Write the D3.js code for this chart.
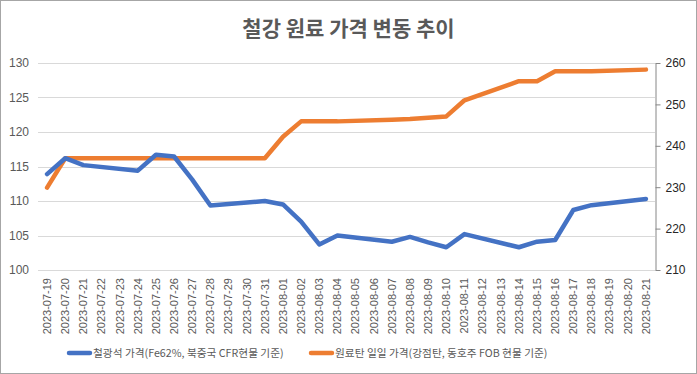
<!DOCTYPE html>
<html>
<head>
<meta charset="utf-8">
<script src="https://cdn.jsdelivr.net/npm/d3@7/dist/d3.min.js"></script>
<style>
  html, body { margin: 0; padding: 0; background: #fff; }
  svg { display: block; }
</style>
</head>
<body>
<div id="chart"></div>
<script>
// Dates on the category axis (weekends have no quote -> null, line skips them)
const dates = [
  '2023-07-19', '2023-07-20', '2023-07-21', '2023-07-22', '2023-07-23', '2023-07-24',
  '2023-07-25', '2023-07-26', '2023-07-27', '2023-07-28', '2023-07-29', '2023-07-30',
  '2023-07-31', '2023-08-01', '2023-08-02', '2023-08-03', '2023-08-04', '2023-08-05',
  '2023-08-06', '2023-08-07', '2023-08-08', '2023-08-09', '2023-08-10', '2023-08-11',
  '2023-08-12', '2023-08-13', '2023-08-14', '2023-08-15', '2023-08-16', '2023-08-17',
  '2023-08-18', '2023-08-19', '2023-08-20', '2023-08-21'
];

// Iron ore (left axis)
const ironOre = [
  113.9, 116.2, 115.2, null, null, 114.4,
  116.7, 116.45, 113.1, 109.35, null, null,
  110.0, 109.5, 107.0, 103.7, 105.0, null,
  null, 104.1, 104.8, 104.0, 103.3, 105.2,
  null, null, 103.3, 104.1, 104.35, 108.7,
  109.4, null, null, 110.3
];

// Coking coal (right axis)
const cokingCoal = [
  229.9, 237.0, 237.0, null, null, 237.0,
  237.0, 237.0, 237.0, 237.0, null, null,
  237.0, 242.2, 245.9, 245.9, 245.9, null,
  null, 246.3, 246.45, 246.8, 247.1, 251.0,
  null, null, 255.6, 255.6, 258.0, 258.0,
  258.0, null, null, 258.4
];

const leftTicks  = [100, 105, 110, 115, 120, 125, 130];
const rightTicks = [210, 220, 230, 240, 250, 260];

const title = '철강 원료 가격 변동 추이';
const seriesNames = [
  '철광석 가격(Fe62%, 북중국 CFR현물 기준)',
  '원료탄 일일 가격(강점탄, 동호주 FOB 현물 기준)'
];
const colors = ['#4472C4', '#ED7D31'];

const W = 697, H = 374;
const margin = { top: 63, right: 42, bottom: 104, left: 38 };
const iw = W - margin.left - margin.right;
const ih = H - margin.top - margin.bottom;

const svg = d3.select('#chart').append('svg')
  .attr('width', W).attr('height', H);

svg.append('rect')
  .attr('x', 0.5).attr('y', 0.5)
  .attr('width', W - 1).attr('height', H - 1)
  .attr('fill', '#fff').attr('stroke', '#a6a6a6');

svg.append('text')
  .attr('x', W / 2).attr('y', 36)
  .attr('text-anchor', 'middle')
  .style('font-family', '"Noto Sans CJK KR", sans-serif')
  .style('font-size', '21px')
  .style('font-weight', '700')
  .style('fill', '#595959')
  .text(title);

const g = svg.append('g').attr('transform', `translate(${margin.left},${margin.top})`);

const x = d3.scaleBand().domain(dates).range([0, iw]);
const yL = d3.scaleLinear().domain([100, 130]).range([ih, 0]);
const yR = d3.scaleLinear().domain([210, 260]).range([ih, 0]);

// gridlines
g.selectAll('line.grid')
  .data(leftTicks)
  .join('line')
  .attr('class', 'grid')
  .attr('x1', 0).attr('x2', iw)
  .attr('y1', d => Math.round(yL(d)) + 0.5)
  .attr('y2', d => Math.round(yL(d)) + 0.5)
  .attr('stroke', '#d9d9d9').attr('stroke-width', 1);

// left axis labels
const axL = g.append('g')
  .call(d3.axisLeft(yL).tickValues(leftTicks).tickSize(0).tickPadding(9));
axL.select('.domain').remove();
axL.selectAll('text')
  .style('font-family', '"Liberation Sans", Arial, sans-serif')
  .style('font-size', '12px')
  .style('fill', '#595959');

// right axis with outward ticks
const axR = g.append('g')
  .attr('transform', `translate(${iw + 0.5},0)`)
  .call(d3.axisRight(yR).tickValues(rightTicks).tickSize(5).tickPadding(5).tickSizeOuter(0));
axR.select('.domain').attr('stroke', '#868686');
axR.selectAll('.tick line').attr('stroke', '#868686');
axR.selectAll('text')
  .style('font-family', '"Liberation Sans", Arial, sans-serif')
  .style('font-size', '12px')
  .style('fill', '#262626');

// category labels (rotated)
const axX = g.append('g')
  .attr('transform', `translate(0,${ih})`)
  .call(d3.axisBottom(x).tickSize(0).tickPadding(0));
axX.select('.domain').remove();
axX.selectAll('text')
  .attr('transform', 'rotate(-90)')
  .attr('x', -8).attr('y', 0).attr('dy', '0.35em')
  .attr('text-anchor', 'end')
  .style('font-family', '"Liberation Sans", Arial, sans-serif')
  .style('font-size', '11px')
  .style('fill', '#595959');

const cx = d => x(d) + x.bandwidth() / 2;

function drawLine(values, scale, color) {
  const pts = dates.map((d, i) => ({ d, v: values[i] })).filter(p => p.v != null);
  g.append('path')
    .datum(pts)
    .attr('fill', 'none')
    .attr('stroke', color)
    .attr('stroke-width', 4.5)
    .attr('stroke-linejoin', 'round')
    .attr('stroke-linecap', 'round')
    .attr('d', d3.line().x(p => cx(p.d)).y(p => scale(p.v)));
}

drawLine(cokingCoal, yR, colors[1]);
drawLine(ironOre, yL, colors[0]);

// legend
const legendX = [69, 311];
const lg = svg.append('g').attr('transform', 'translate(0,353)');
seriesNames.forEach((name, i) => {
  lg.append('line')
    .attr('x1', legendX[i]).attr('x2', legendX[i] + 21)
    .attr('y1', 0).attr('y2', 0)
    .attr('stroke', colors[i]).attr('stroke-width', 4.5)
    .attr('stroke-linecap', 'round');
  lg.append('text')
    .attr('x', legendX[i] + 24).attr('y', 0).attr('dy', '0.35em')
    .style('font-family', '"Noto Sans CJK KR", sans-serif')
    .style('font-size', '10.7px')
    .style('fill', '#595959')
    .text(name);
});
</script>
</body>
</html>
